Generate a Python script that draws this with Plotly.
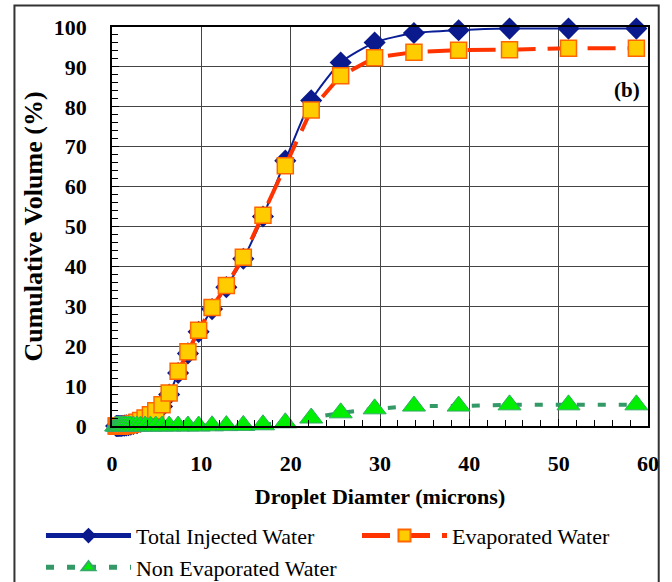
import plotly.graph_objects as go

# Droplet size classes (microns)
diameter = [0.46, 0.53, 0.61, 0.70, 0.80, 0.92, 1.06, 1.22, 1.40, 1.60, 1.85,
            2.1, 2.4, 2.8, 3.2, 3.7, 4.3, 4.9, 5.6, 6.4, 7.4, 8.5, 9.7, 11.2,
            12.8, 14.7, 16.9, 19.4, 22.3, 25.6, 29.4, 33.8, 38.8, 44.5, 51.1, 58.7]

# Cumulative volume (%) per class
total_injected = [0.0, 0.0, 0.0, 0.0, 0.0, 0.0, 0.0, 0.05, 0.1, 0.15, 0.2,
                  0.3, 0.5, 0.7, 1.1, 1.7, 2.5, 3.5, 4.9, 7.9, 13.3, 18.2, 23.6, 29.3,
                  34.8, 41.9, 52.5, 66.5, 81.6, 91.1, 96.1, 98.5, 99.2, 99.6, 99.6, 99.6]
evaporated = [0.0, 0.0, 0.01, 0.02, 0.03, 0.05, 0.07, 0.1, 0.15, 0.22, 0.3,
              0.45, 0.65, 0.95, 1.4, 2.0, 2.8, 3.8, 5.3, 8.3, 13.7, 18.6, 24.0, 29.7,
              35.2, 42.3, 52.8, 65.2, 79.2, 87.8, 92.3, 93.7, 94.2, 94.3, 94.7, 94.7]
non_evaporated = [0.0, 0.0, 0.0, 0.0, 0.0, 0.0, 0.0, 0.0, 0.0, 0.0, 0.0,
                  0.0, 0.0, 0.0, 0.0, 0.0, 0.0, 0.0, 0.0, 0.0, 0.0, 0.0, 0.0, 0.05,
                  0.1, 0.15, 0.3, 0.8, 2.0, 3.3, 4.3, 5.0, 5.0, 5.3, 5.3, 5.3]

x_ticks = [0, 10, 20, 30, 40, 50, 60]
y_ticks = [0, 10, 20, 30, 40, 50, 60, 70, 80, 90, 100]

SERIF = "Liberation Serif, Times New Roman, serif"

fig = go.Figure()

fig.add_trace(go.Scatter(
    x=diameter, y=total_injected, name="Total Injected Water",
    mode="lines+markers", cliponaxis=False,
    line=dict(color="#0a1f96", width=2, shape="spline", smoothing=0.6),
    marker=dict(symbol="diamond", size=17, color="#0a1a8c",
                line=dict(color="#0a1a8c", width=0)),
))
fig.add_trace(go.Scatter(
    x=diameter, y=evaporated, name="Evaporated Water",
    mode="lines+markers", cliponaxis=False,
    line=dict(color="#ff3300", width=4, dash="28px,12px"),
    marker=dict(symbol="square", size=16, color="#ffcc00",
                line=dict(color="#ff6600", width=1.5)),
))
fig.add_trace(go.Scatter(
    x=diameter, y=non_evaporated, name="Non Evaporated Water",
    mode="lines+markers", cliponaxis=False,
    line=dict(color="#339966", width=4, dash="8px,13px"),
    marker=dict(symbol="triangle-up", size=20, color="#00ee00",
                line=dict(color="#33aa66", width=1)),
))

fig.add_annotation(x=57.6, y=84.3, xref="x", yref="y", text="(b)",
                   showarrow=False,
                   font=dict(family=SERIF, size=21, color="black", weight="bold"))

# outer chart frame
fig.add_shape(type="rect", xref="paper", yref="paper",
              x0=-0.182, x1=1.02, y0=-0.6, y1=1.054,
              line=dict(color="#333333", width=2), layer="below")

axis_common = dict(
    showline=True, linecolor="black", linewidth=1.5, mirror=True,
    showgrid=True, gridcolor="#444444", gridwidth=1.2,
    zeroline=False, ticks="inside", ticklen=7, tickcolor="black",
    tickfont=dict(family=SERIF, size=22, color="black", weight="bold"),
)

fig.update_xaxes(
    range=[0, 60], tickvals=x_ticks, ticklabelstandoff=17,
    minor=dict(dtick=2, ticks="inside", ticklen=6, tickcolor="black", showgrid=False),
    title=dict(text="Droplet Diamter (microns)", standoff=13,
               font=dict(family=SERIF, size=22, color="black", weight="bold")),
    **axis_common,
)
fig.update_yaxes(
    range=[0, 100], tickvals=y_ticks, ticklabelstandoff=19,
    minor=dict(dtick=2, ticks="inside", ticklen=6, tickcolor="black", showgrid=False),
    title=dict(text="Cumulative Volume (%)", standoff=4,
               font=dict(family=SERIF, size=26, color="black", weight="bold")),
    **axis_common,
)

fig.update_layout(
    width=672, height=582,
    margin=dict(l=112, r=24, t=27, b=156, autoexpand=False),
    paper_bgcolor="white", plot_bgcolor="white",
    showlegend=True,
    legend=dict(orientation="h", x=-0.1325, xanchor="left", y=-0.408, yanchor="bottom",
                entrywidth=216, entrywidthmode="pixels", itemwidth=85,
                itemsizing="constant",
                font=dict(family=SERIF, size=22, color="black"),
                bgcolor="rgba(0,0,0,0)", tracegroupgap=0),
)

fig.write_html("out.html")
